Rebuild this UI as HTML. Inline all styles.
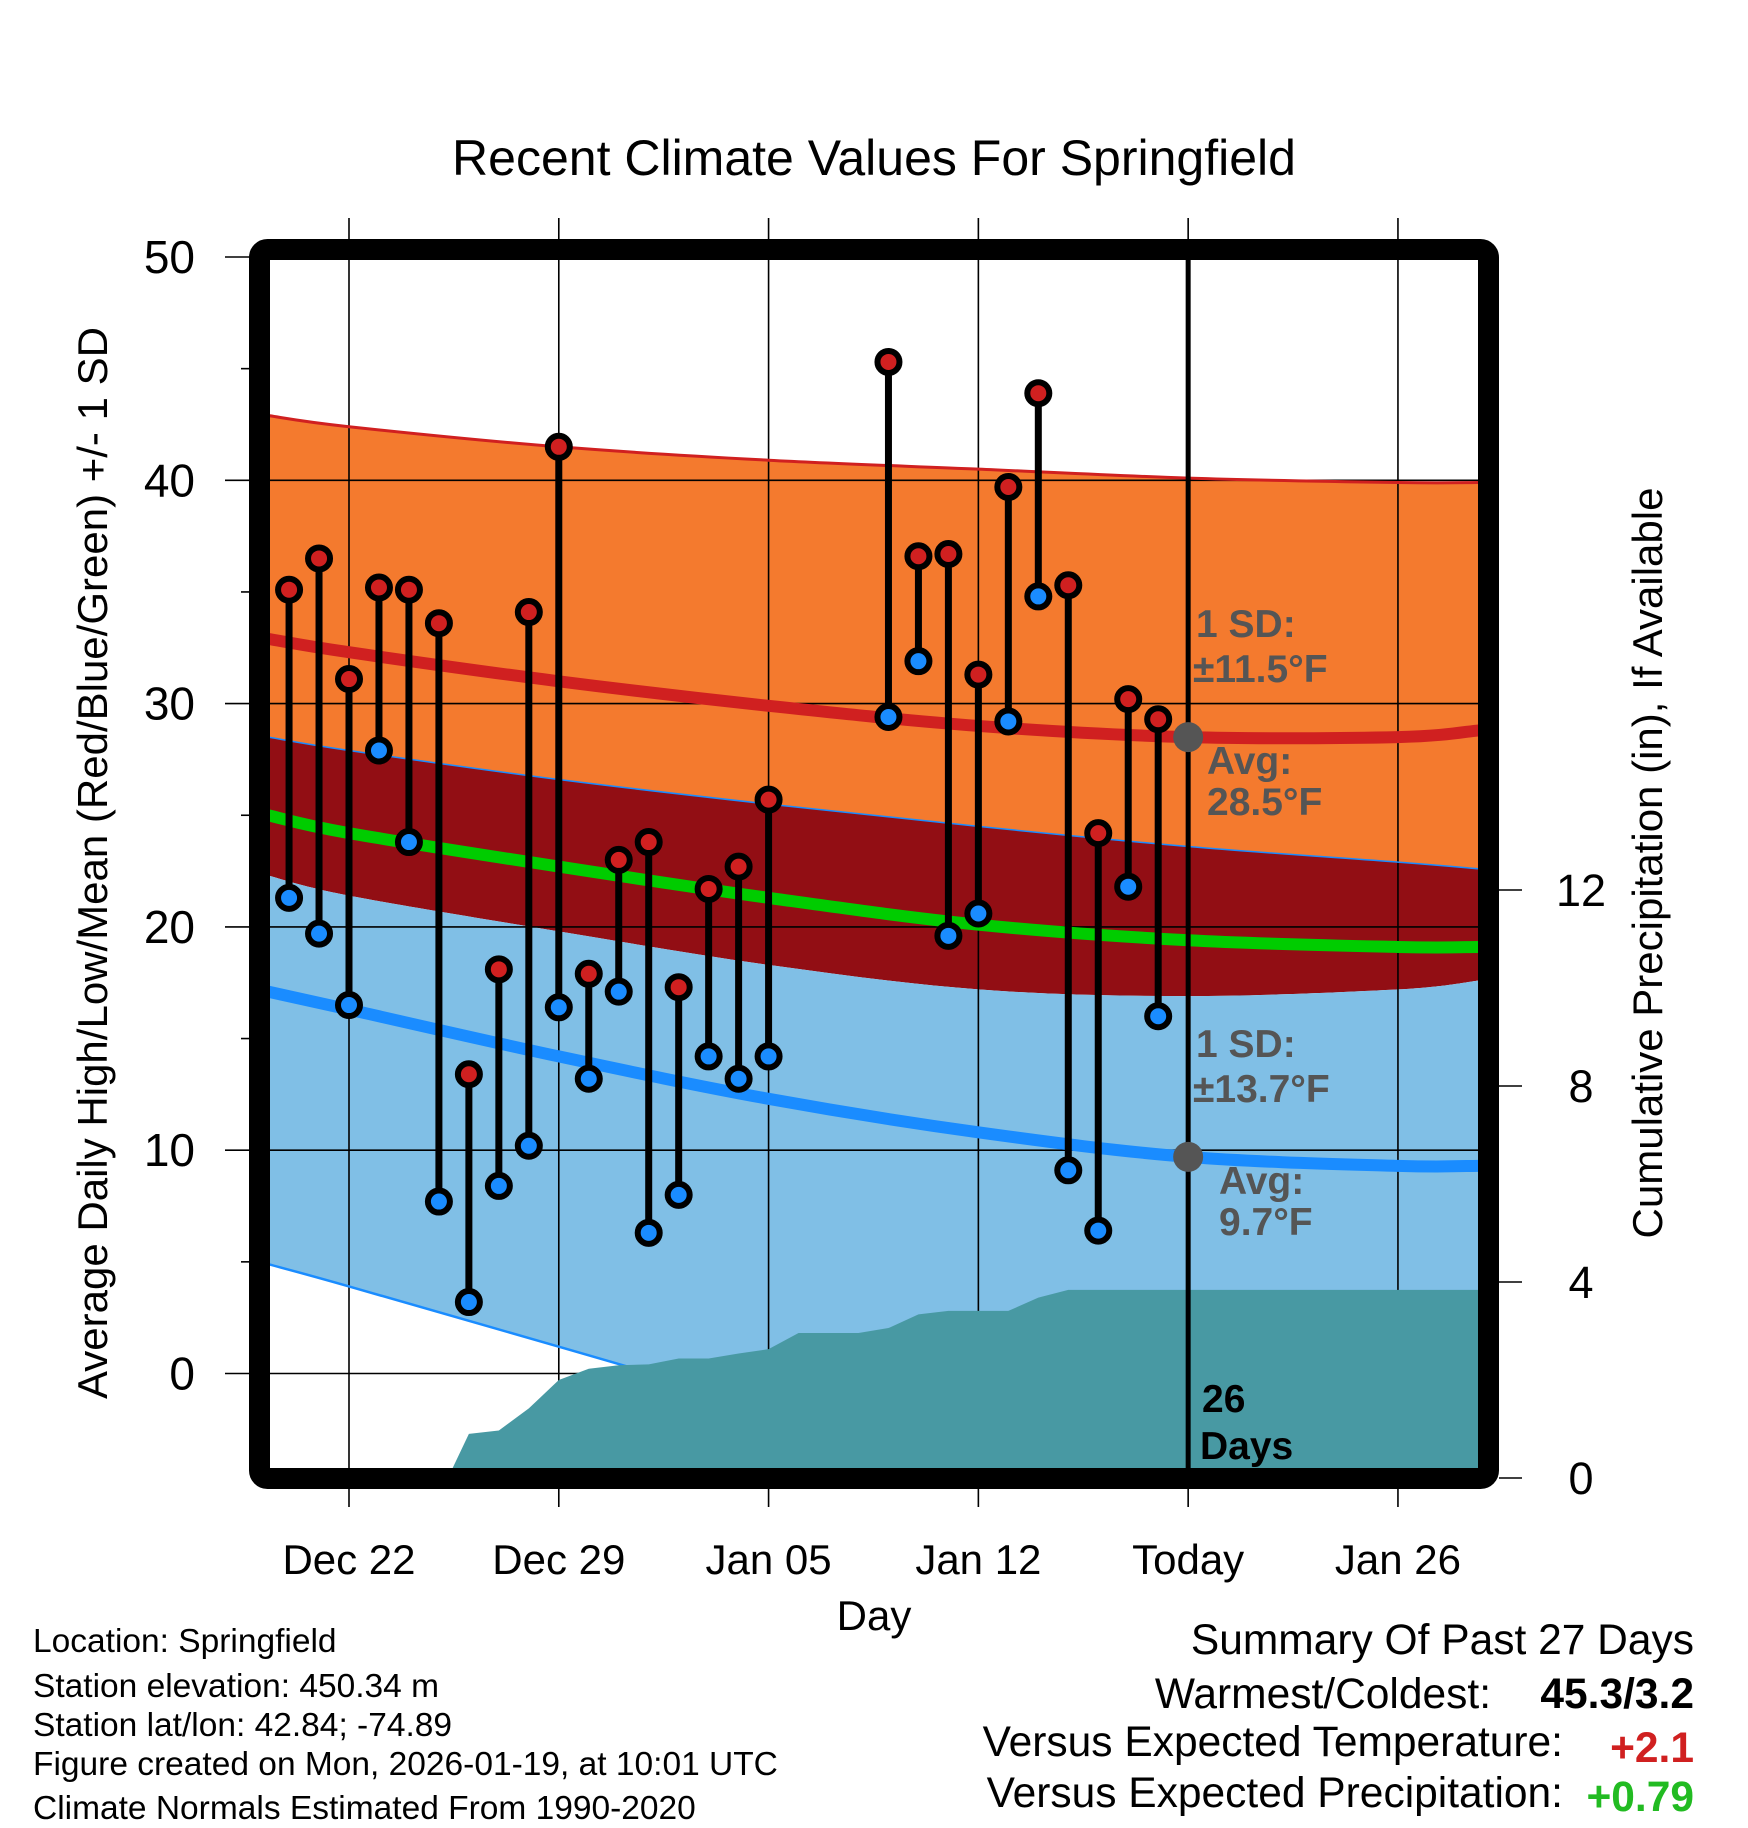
<!DOCTYPE html>
<html><head><meta charset="utf-8">
<style>
html,body{margin:0;padding:0;background:#fff;}
svg{display:block;font-family:"Liberation Sans",sans-serif;}
</style></head>
<body>
<svg id="chart" width="1748" height="1828" viewBox="0 0 1748 1828" xmlns="http://www.w3.org/2000/svg">
<defs><clipPath id="plotclip"><rect x="270" y="260" width="1208" height="1208"/></clipPath></defs>
<rect x="0" y="0" width="1748" height="1828" fill="#fff"/>
<g id="bands" clip-path="url(#plotclip)"></g>
<g id="grid"></g>
<g id="lowline" clip-path="url(#plotclip)"></g>
<g id="precip" clip-path="url(#plotclip)"></g>
<g id="normals" clip-path="url(#plotclip)"></g>
<g id="obs"></g>
<g id="annot"></g>
<rect x="259.5" y="249.5" width="1229" height="1229" rx="8" fill="none" stroke="#000" stroke-width="21"/>
<g id="axes"></g>
<text x="874" y="175" font-size="50" text-anchor="middle">Recent Climate Values For Springfield</text>
<text x="874" y="1630" font-size="42" text-anchor="middle">Day</text>
<text transform="translate(107,863) rotate(-90)" font-size="42" text-anchor="middle">Average Daily High/Low/Mean (Red/Blue/Green) +/- 1 SD</text>
<text transform="translate(1662,863) rotate(-90)" font-size="42" text-anchor="middle">Cumulative Precipitation (in), If Available</text>
<g font-size="33.5">
<text x="33" y="1652">Location: Springfield</text>
<text x="33" y="1697">Station elevation: 450.34 m</text>
<text x="33" y="1736">Station lat/lon: 42.84; -74.89</text>
<text x="33" y="1775">Figure created on Mon, 2026-01-19, at 10:01 UTC</text>
<text x="33" y="1819">Climate Normals Estimated From 1990-2020</text>
</g>
<g font-size="42.5">
<text x="1694" y="1654" text-anchor="end">Summary Of Past 27 Days</text>
<text x="1491" y="1708" text-anchor="end">Warmest/Coldest:</text>
<text x="1694" y="1708" text-anchor="end" font-weight="bold">45.3/3.2</text>
<text x="1563" y="1756" text-anchor="end">Versus Expected Temperature:</text>
<text x="1694" y="1762" text-anchor="end" font-weight="bold" fill="#d02020">+2.1</text>
<text x="1563" y="1807" text-anchor="end">Versus Expected Precipitation:</text>
<text x="1694" y="1811" text-anchor="end" font-weight="bold" fill="#22bb22">+0.79</text>
</g>
</svg>
<script>
// ---- data ----
const obsDays = [-2,-1,0,1,2,3,4,5,6,7,8,9,10,11,12,13,14,18,19,20,21,22,23,24,25,26,27];
const highs = [35.1,36.5,31.1,35.2,35.1,33.6,13.4,18.1,34.1,41.5,17.9,23.0,23.8,17.3,21.7,22.7,25.7,45.3,36.6,36.7,31.3,39.7,43.9,35.3,24.2,30.2,29.3];
const lows = [21.3,19.7,16.5,27.9,23.8,7.7,3.2,8.4,10.2,16.4,13.2,17.1,6.3,8.0,14.2,13.2,14.2,29.4,31.9,19.6,20.6,29.2,34.8,9.1,6.4,21.8,16.0];
const normDays = [-2.7,0,7,14,21,28,35,37.7];
const highUpper = [42.9,42.4,41.5,40.9,40.5,40.1,39.9,39.9];
const normHigh = [32.9,32.3,31.0,29.9,29.0,28.5,28.5,28.8];
const orangeLower = [28.5,27.9,26.6,25.5,24.5,23.6,22.9,22.6];
const normMean = [25.0,24.2,22.7,21.3,20.1,19.4,19.1,19.1];
const lowUpper = [22.3,21.4,19.8,18.3,17.2,16.9,17.2,17.6];
const normLow = [17.1,16.3,14.2,12.3,10.8,9.7,9.3,9.3];
const lowLower = [4.9,3.9,1.2,-1.5,-4.0,-6.0,-7.5,-8.0];
const precipDays = [3.3,4,5,6,7,8,9,10,11,12,13,14,15,16,17,18,19,20,21,22,23,24,25,26,27,28,37.7];
const precipVals = [0,0.9,0.97,1.42,2.0,2.23,2.3,2.32,2.44,2.44,2.54,2.63,2.96,2.96,2.96,3.06,3.34,3.41,3.41,3.41,3.68,3.84,3.84,3.84,3.84,3.84,3.84];
const xTickDays = [0,7,14,21,28,35];
const xTickLabels = ["Dec 22","Dec 29","Jan 05","Jan 12","Today","Jan 26"];
const yTicks = [0,10,20,30,40,50];
const pTicks = [0,4,8,12];
const todayDay = 28;
const todayHigh = 28.5, todayLow = 9.7;

// ---- axes ----
const X = d => 349 + d*29.97;
const Y = v => 257 + (50 - v)*22.33;
const P = p => 1478 - p*49.0;
const NS = "http://www.w3.org/2000/svg";
function mk(parent, tag, attrs){const e=document.createElementNS(NS,tag);for(const k in attrs)e.setAttribute(k,attrs[k]);parent.appendChild(e);return e;}
function pts(days, vals){return days.map((d,i)=>[X(d),Y(vals[i])]);}
function smooth(p){
  let s="M"+p[0][0]+","+p[0][1];
  for(let i=0;i<p.length-1;i++){
    const p0=p[Math.max(0,i-1)],p1=p[i],p2=p[i+1],p3=p[Math.min(p.length-1,i+2)];
    const c1=[p1[0]+(p2[0]-p0[0])/6,p1[1]+(p2[1]-p0[1])/6];
    const c2=[p2[0]-(p3[0]-p1[0])/6,p2[1]-(p3[1]-p1[1])/6];
    s+=" C"+c1+" "+c2+" "+p2;
  }
  return s;
}
function bandPath(a,b){
  const top=smooth(pts(normDays,a));
  const bp=pts(normDays,b).reverse();
  return top+" L"+bp[0]+smooth(bp).slice(1+String(bp[0]).length)+" Z";
}
const bands=document.getElementById('bands');
let e;
e=mk(bands,'path',{d:bandPath(highUpper,orangeLower),fill:'#f47a2e'});


e=mk(bands,'path',{d:bandPath(orangeLower,lowUpper),fill:'#920e14'});


e=mk(bands,'path',{d:bandPath(lowUpper,lowLower),fill:'#80bfe6'});



// grid
const grid=document.getElementById('grid');
xTickDays.forEach((d,i)=>{
  e=mk(grid,'line',{x1:X(d),x2:X(d),y1:218,y2:1507,stroke:'#000','stroke-width':1.6});
  
  
});
yTicks.forEach(v=>{
  e=mk(grid,'line',{x1:225,x2:1478,y1:Y(v),y2:Y(v),stroke:'#000','stroke-width':1.6});
  
  
});

// lower SD line (hidden behind precip)
const ll=document.getElementById('lowline');
e=mk(ll,'path',{d:smooth(pts(normDays,lowLower)),fill:'none',stroke:'#1a8cff','stroke-width':2.5});



// precip
const pr=document.getElementById('precip');
let pd="M"+X(precipDays[0])+","+P(0);
precipDays.forEach((d,i)=>{pd+=" L"+X(d)+","+P(precipVals[i]);});
pd+=" L"+X(precipDays[precipDays.length-1])+","+P(0)+" Z";
e=mk(pr,'path',{d:pd,fill:'#4899a3'});



// normal lines
const nm=document.getElementById('normals');
e=mk(nm,'path',{d:smooth(pts(normDays,highUpper)),fill:'none',stroke:'#d02020','stroke-width':3});


e=mk(nm,'path',{d:smooth(pts(normDays,orangeLower)),fill:'none',stroke:'#1a8cff','stroke-width':1.5});


e=mk(nm,'path',{d:smooth(pts(normDays,normHigh)),fill:'none',stroke:'#d02020','stroke-width':12});


e=mk(nm,'path',{d:smooth(pts(normDays,normMean)),fill:'none',stroke:'#00cc00','stroke-width':12});


e=mk(nm,'path',{d:smooth(pts(normDays,normLow)),fill:'none',stroke:'#1a8cff','stroke-width':12});



// today line + dots
const an=document.getElementById('annot');
e=mk(an,'line',{x1:X(todayDay),x2:X(todayDay),y1:260,y2:1468,stroke:'#000','stroke-width':5});


e=mk(an,'circle',{cx:X(todayDay),cy:Y(todayHigh),r:15,fill:'#555'});


e=mk(an,'circle',{cx:X(todayDay),cy:Y(todayLow),r:15,fill:'#555'});



// observations
const ob=document.getElementById('obs');
obsDays.forEach((d,i)=>{
  const x=X(d);
  e=mk(ob,'line',{x1:x,x2:x,y1:Y(highs[i]),y2:Y(lows[i]),stroke:'#000','stroke-width':7});
  
  
});
obsDays.forEach((d,i)=>{
  const x=X(d);
  e=mk(ob,'circle',{cx:x,cy:Y(highs[i]),r:11,fill:'#d02020',stroke:'#000','stroke-width':6});
  
  
  e=mk(ob,'circle',{cx:x,cy:Y(lows[i]),r:11,fill:'#1a8cff',stroke:'#000','stroke-width':6});
  
  
});

// annotation text
const annTexts=[["1 SD:",1196,637,'#555'],["\u00b111.5\u00b0F",1193,682,'#555'],["Avg:",1207,774,'#555'],["28.5\u00b0F",1207,815,'#555'],
["1 SD:",1196,1057,'#555'],["\u00b113.7\u00b0F",1193,1102,'#555'],["Avg:",1219,1194,'#555'],["9.7\u00b0F",1219,1235,'#555'],
["26",1202,1412,'#000'],["Days",1200,1459,'#000']];
annTexts.forEach(t=>{
  e=mk(an,'text',{x:t[1],y:t[2],fill:t[3],'font-size':39,'font-weight':'bold'});
  e.textContent=t[0];
  
  
});

// axes ticks/labels
const ax=document.getElementById('axes');
yTicks.forEach(v=>{
  e=mk(ax,'text',{x:195,y:Y(v)+16,'font-size':46,'text-anchor':'end'});
  e.textContent=v;
  
  
});
for(let v=5;v<=50;v+=5){ if(v%10!==0){
  e=mk(ax,'line',{x1:241,x2:250,y1:Y(v),y2:Y(v),stroke:'#000','stroke-width':1.6});
  
  
}}
pTicks.forEach(p=>{
  e=mk(ax,'line',{x1:1499,x2:1522,y1:P(p),y2:P(p),stroke:'#000','stroke-width':1.6});
  
  
  e=mk(ax,'text',{x:1581,y:P(p)+16,'font-size':45,'text-anchor':'middle'});
  e.textContent=p;
  
  
});
xTickDays.forEach((d,i)=>{
  e=mk(ax,'text',{x:X(d),y:1574,'font-size':42,'text-anchor':'middle'});
  e.textContent=xTickLabels[i];
  
  
});
</script>
</body></html>
